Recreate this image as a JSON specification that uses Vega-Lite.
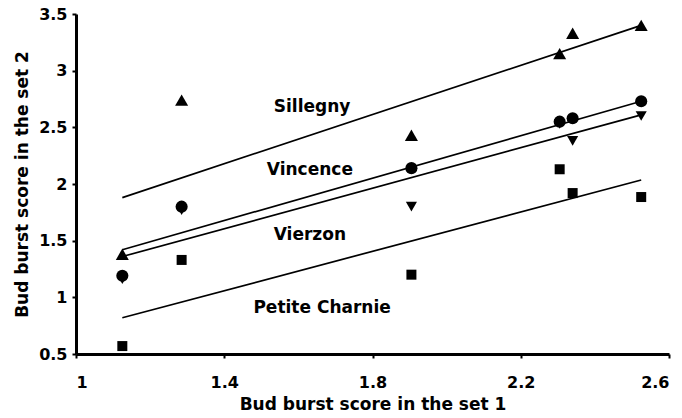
{
  "$schema": "https://vega.github.io/schema/vega-lite/v6.json",
  "autosize": {"type": "none"},
  "padding": {"left": 76, "top": 14, "right": 13, "bottom": 64},
  "width": 593,
  "height": 340,
  "background": "white",
  "config": {
    "view": {"stroke": null},
    "font": "DejaVu Sans",
    "axis": {
      "grid": false,
      "domainColor": "black",
      "domainWidth": 3,
      "tickColor": "black",
      "tickWidth": 2,
      "tickSize": 4,
      "labelFont": "DejaVu Sans",
      "labelFontSize": 16,
      "labelFontWeight": "bold",
      "labelColor": "black",
      "titleFont": "DejaVu Sans",
      "titleFontSize": 17,
      "titleFontWeight": "bold",
      "titleColor": "black"
    }
  },
  "datasets": {
    "points": [
      {"site": "Sillegny", "set1": 1.125, "set2": 1.38},
      {"site": "Sillegny", "set1": 1.285, "set2": 2.74},
      {"site": "Sillegny", "set1": 1.905, "set2": 2.43},
      {"site": "Sillegny", "set1": 2.305, "set2": 3.15},
      {"site": "Sillegny", "set1": 2.34, "set2": 3.33},
      {"site": "Sillegny", "set1": 2.525, "set2": 3.4},
      {"site": "Vierzon", "set1": 1.125, "set2": 1.16},
      {"site": "Vierzon", "set1": 1.285, "set2": 1.77},
      {"site": "Vierzon", "set1": 1.905, "set2": 1.8},
      {"site": "Vierzon", "set1": 2.305, "set2": 2.53},
      {"site": "Vierzon", "set1": 2.34, "set2": 2.38},
      {"site": "Vierzon", "set1": 2.525, "set2": 2.6},
      {"site": "Vincence", "set1": 1.125, "set2": 1.19},
      {"site": "Vincence", "set1": 1.285, "set2": 1.8},
      {"site": "Vincence", "set1": 1.905, "set2": 2.14},
      {"site": "Vincence", "set1": 2.305, "set2": 2.55},
      {"site": "Vincence", "set1": 2.34, "set2": 2.58},
      {"site": "Vincence", "set1": 2.525, "set2": 2.73},
      {"site": "Petite Charnie", "set1": 1.125, "set2": 0.57},
      {"site": "Petite Charnie", "set1": 1.285, "set2": 1.33},
      {"site": "Petite Charnie", "set1": 1.905, "set2": 1.2},
      {"site": "Petite Charnie", "set1": 2.305, "set2": 2.13},
      {"site": "Petite Charnie", "set1": 2.34, "set2": 1.92},
      {"site": "Petite Charnie", "set1": 2.525, "set2": 1.885}
    ],
    "fits": [
      {"site": "Sillegny", "set1": 1.125, "set2": 1.88},
      {"site": "Sillegny", "set1": 2.525, "set2": 3.4},
      {"site": "Vincence", "set1": 1.125, "set2": 1.42},
      {"site": "Vincence", "set1": 2.525, "set2": 2.73},
      {"site": "Vierzon", "set1": 1.125, "set2": 1.36},
      {"site": "Vierzon", "set1": 2.525, "set2": 2.61},
      {"site": "Petite Charnie", "set1": 1.125, "set2": 0.82},
      {"site": "Petite Charnie", "set1": 2.525, "set2": 2.035}
    ],
    "labels": [
      {"site": "Sillegny", "set1": 1.637, "set2": 2.68},
      {"site": "Vincence", "set1": 1.631, "set2": 2.124},
      {"site": "Vierzon", "set1": 1.631, "set2": 1.55},
      {"site": "Petite Charnie", "set1": 1.664, "set2": 0.906}
    ]
  },
  "encoding": {
    "x": {
      "field": "set1",
      "type": "quantitative",
      "scale": {"domain": [1, 2.6], "nice": false, "zero": false},
      "axis": {"values": [1, 1.4, 1.8, 2.2, 2.6], "format": "~g", "title": "Bud burst score in the set 1", "labelPadding": 16, "titlePadding": 6}
    },
    "y": {
      "field": "set2",
      "type": "quantitative",
      "scale": {"domain": [0.5, 3.5], "nice": false, "zero": false},
      "axis": {"values": [0.5, 1, 1.5, 2, 2.5, 3, 3.5], "format": "~g", "title": "Bud burst score in the set 2", "labelPadding": 5, "titlePadding": 7}
    }
  },
  "layer": [
    {
      "data": {"name": "fits"},
      "mark": {"type": "line", "color": "black", "strokeWidth": 1.7},
      "encoding": {"detail": {"field": "site"}}
    },
    {
      "data": {"name": "points"},
      "mark": {"type": "point", "filled": true, "opacity": 1},
      "encoding": {
        "shape": {
          "field": "site",
          "type": "nominal",
          "scale": {
            "domain": ["Sillegny", "Vincence", "Vierzon", "Petite Charnie"],
            "range": ["triangle-up", "circle", "triangle-down", "square"]
          },
          "legend": null
        },
        "size": {
          "field": "site",
          "type": "nominal",
          "scale": {
            "domain": ["Sillegny", "Vincence", "Vierzon", "Petite Charnie"],
            "range": [170, 100, 160, 85]
          },
          "legend": null
        },
        "color": {"value": "black"}
      }
    },
    {
      "data": {"name": "labels"},
      "mark": {"type": "text", "font": "DejaVu Sans", "fontSize": 17, "fontWeight": "bold", "color": "black", "align": "center", "baseline": "middle"},
      "encoding": {"text": {"field": "site"}}
    }
  ]
}
